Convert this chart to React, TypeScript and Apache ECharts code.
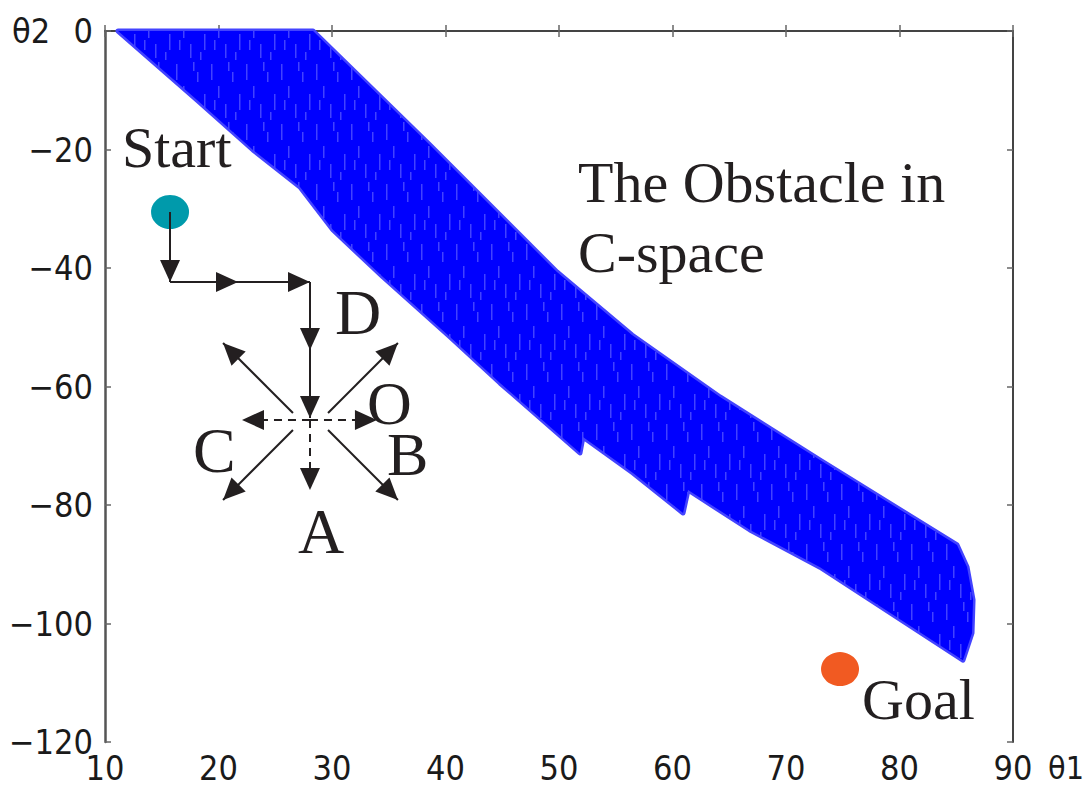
import React, { useEffect, useRef } from "react";
import * as echarts from "echarts";

// Axis ticks
const xMin = 10, xMax = 90, xStep = 10;
const yMin = -120, yMax = 0, yStep = 20;

// Obstacle boundary in C-space (θ1, θ2): upper edge left->right, lower edge right->left
const upperEdge: [number, number][] = [
  [11.15, 0], [28.33, 0], [38.63, -19.24], [49.82, -40.68], [56.43, -51.31],
  [64.19, -61.77], [73.0, -72.41], [85.07, -86.75], [85.95, -90.46],
  [86.48, -96.03], [86.39, -101.6], [85.59, -106.2],
];
const lowerEdge: [number, number][] = [
  [73.0, -90.5], [66.83, -84.22], [61.37, -77.47], [60.93, -81.35],
  [56.52, -74.6], [52.11, -68.52], [51.85, -71.22], [44.8, -59.41],
  [40.4, -51.65], [34.49, -41.52], [30.09, -33.59], [27.18, -26.33],
  [23.04, -20.08], [18.11, -11.65],
];

// Start and goal configurations
const startPoint: [number, number] = [15.73, -30.55];
const goalPoint: [number, number] = [74.76, -107.7];

// Search path (solid arrows)
const pathSegments: [number, number][][] = [
  [[15.73, -30.55], [15.73, -42.36]],
  [[15.73, -42.36], [21.72, -42.36]],
  [[21.72, -42.36], [28.06, -42.36]],
  [[28.06, -42.36], [28.06, -53.84]],
  [[28.06, -53.84], [28.06, -65.3]],
  [[26.56, -64.47], [20.4, -52.66]],
  [[29.65, -64.47], [35.81, -52.66]],
  [[26.56, -67.34], [20.4, -79.16]],
  [[29.65, -67.34], [35.81, -79.16]],
];
// Candidate moves (dashed arrows)
const dashedSegments: [number, number][][] = [
  [[28.06, -65.65], [22.07, -65.65]],
  [[28.06, -65.65], [33.96, -65.65]],
  [[28.06, -65.65], [28.06, -77.47]],
];

const axisFont = "'Liberation Sans Narrow', 'DejaVu Sans Condensed', 'Arial Narrow', sans-serif";
const serif = "'Liberation Serif', 'Times New Roman', serif";
const ink = "#231f20";

const fmtMinus = (v: number) => (v < 0 ? "\u2212" + Math.abs(v) : String(v));

function makeStripePattern(): any {
  const w = 35, h = 60;
  const c = document.createElement("canvas");
  c.width = w;
  c.height = h;
  const g = c.getContext("2d");
  if (!g) return "#0505fb";
  g.fillStyle = "#0000ff";
  g.fillRect(0, 0, w, h);
  g.fillStyle = "rgba(110,110,255,0.6)";
  const stripes = [
    [1, 4, 16], [8, 26, 12], [15, 44, 14], [22, 12, 10], [29, 34, 16],
    [4, 40, 10], [18, 2, 9], [25, 52, 8],
  ];
  for (const [x, y, len] of stripes) {
    g.fillRect(x, y, 1.5, len);
    if (y + len > h) g.fillRect(x, 0, 1.5, y + len - h);
  }
  return { image: c, repeat: "repeat", imageWidth: w, imageHeight: h };
}

export default function App() {
  const ref = useRef<HTMLDivElement>(null);
  useEffect(() => {
    if (!ref.current) return;
    const chart = echarts.init(ref.current, undefined, { renderer: "svg" });
    const polygon = upperEdge.concat(lowerEdge);
    const pattern = makeStripePattern();

    const arrowEnd = { symbol: "triangle", symbolSize: [20, 22], symbolOffset: [0, 11] };
    const solid = pathSegments.map((s) => [
      { coord: s[0], symbol: "none" },
      { coord: s[1], ...arrowEnd },
    ]);
    const dashed = dashedSegments.map((s) => [
      { coord: s[0], symbol: "none", lineStyle: { type: [8, 6], color: ink, width: 2 } },
      { coord: s[1], ...arrowEnd },
    ]);

    const text = (t: string, x: number, y: number, size: number) => ({
      type: "text",
      x,
      y,
      silent: true,
      style: { text: t, fill: ink, font: `${size}px ${serif}`, align: "left", verticalAlign: "middle" },
    });
    const axText = (t: string, x: number, y: number, align: string, size: number) => ({
      type: "text",
      x,
      y,
      silent: true,
      style: { text: t, fill: "#1a1a1a", font: `${size}px ${axisFont}`, align, verticalAlign: "middle" },
    });

    chart.setOption({
      animation: false,
      backgroundColor: "#ffffff",
      grid: { left: 105, right: 77, top: 31, bottom: 49, containLabel: false },
      xAxis: [
        {
          type: "value", min: xMin, max: xMax, interval: xStep,
          axisLine: { show: true, lineStyle: { color: "#444", width: 2 } },
          axisTick: { show: true, inside: true, length: 6, lineStyle: { color: "#666", width: 1.5 } },
          splitLine: { show: false },
          axisLabel: { fontSize: 34, fontFamily: axisFont, color: "#1a1a1a", margin: 9 },
        },
        {
          type: "value", position: "top", min: xMin, max: xMax, interval: xStep,
          axisLine: { show: true, lineStyle: { color: "#444", width: 2 } },
          axisTick: { show: true, inside: true, length: 6, lineStyle: { color: "#666", width: 1.5 } },
          splitLine: { show: false }, axisLabel: { show: false },
        },
      ],
      yAxis: [
        {
          type: "value", min: yMin, max: yMax, interval: yStep,
          axisLine: { show: true, lineStyle: { color: "#555", width: 2.5 } },
          axisTick: { show: true, inside: true, length: 6, lineStyle: { color: "#666", width: 1.5 } },
          splitLine: { show: false },
          axisLabel: { fontSize: 34, fontFamily: axisFont, color: "#1a1a1a", margin: 12, formatter: fmtMinus },
        },
        {
          type: "value", position: "right", min: yMin, max: yMax, interval: yStep,
          axisLine: { show: true, lineStyle: { color: "#444", width: 2 } },
          axisTick: { show: true, inside: true, length: 6, lineStyle: { color: "#666", width: 1.5 } },
          splitLine: { show: false }, axisLabel: { show: false },
        },
      ],
      series: [
        {
          type: "custom",
          silent: true,
          data: polygon,
          renderItem: (params: any, api: any) => {
            if (params.dataIndex !== 0) return null;
            const pts = polygon.map((p) => api.coord(p));
            return {
              type: "group",
              children: [
                {
                  type: "polygon",
                  shape: { points: pts },
                  style: { fill: "none", stroke: "#4343ff", lineWidth: 5, lineJoin: "round" },
                },
                {
                  type: "polygon",
                  shape: { points: pts },
                  style: { fill: pattern, stroke: "none" },
                },
              ],
            };
          },
          z: 1,
        },
        {
          type: "scatter",
          silent: true,
          symbol: "circle",
          symbolSize: [38, 34],
          itemStyle: { opacity: 1 },
          data: [
            { value: startPoint, itemStyle: { color: "#009aab", opacity: 1 } },
            { value: goalPoint, itemStyle: { color: "#f15a22", opacity: 1 } },
          ],
          z: 3,
          markLine: {
            silent: true,
            animation: false,
            label: { show: false },
            emphasis: { disabled: true },
            lineStyle: { color: ink, width: 2, type: "solid" },
            itemStyle: { color: ink },
            data: [...solid, ...dashed],
          },
        },
      ],
      graphic: [
        axText("\u03b82", 12, 31, "left", 34),
        axText("\u03b81", 1084, 768, "right", 32),
        text("Start", 122, 147, 58),
        text("The Obstacle in", 578, 182, 58),
        text("C-space", 578, 252, 58),
        text("D", 335, 312, 64),
        text("O", 367, 403, 62),
        text("B", 387, 454, 62),
        text("C", 193, 450, 64),
        text("A", 298, 531, 64),
        text("Goal", 862, 699, 58),
      ],
    });
    return () => chart.dispose();
  }, []);
  return <div ref={ref} style={{ width: 1090, height: 791, position: "absolute", left: 0, top: 0 }} />;
}
